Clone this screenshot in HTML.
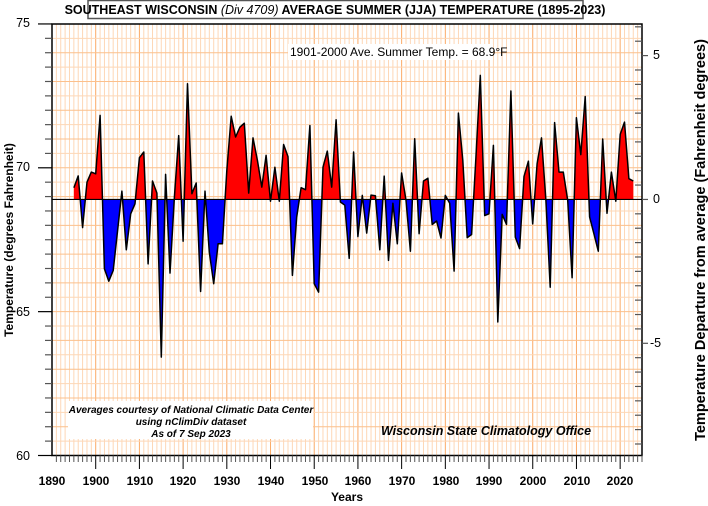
<!DOCTYPE html>
<html><head><meta charset="utf-8"><style>
html,body{margin:0;padding:0;background:#fff;}
svg{display:block;font-family:"Liberation Sans",Arial,sans-serif;}
</style></head><body>
<svg id="c" width="708" height="506" viewBox="0 0 708 506" xmlns="http://www.w3.org/2000/svg">
<defs>
<clipPath id="up"><rect x="52" y="0" width="590" height="199"/></clipPath>
<clipPath id="dn"><rect x="52" y="199" width="590" height="300"/></clipPath>
</defs>
<g id="grid"></g>
<g id="data"></g>
<g id="axes"></g>
<rect x="88" y="0.5" width="495" height="18" fill="#fff" stroke="#555" stroke-width="1.5"/>
<text x="335" y="14" text-anchor="middle" font-size="12.5" font-weight="bold">SOUTHEAST WISCONSIN <tspan font-style="italic" font-weight="normal">(Div 4709)</tspan> AVERAGE SUMMER (JJA) TEMPERATURE  (1895-2023)</text>
<rect x="288" y="44" width="205" height="16" fill="#fff"/>
<text x="290" y="56" font-size="12">1901-2000 Ave. Summer Temp. = 68.9°F</text>
<rect x="68" y="401" width="245" height="38" fill="#fff"/>
<g font-size="10" font-weight="bold" font-style="italic" text-anchor="middle">
<text x="191" y="413">Averages courtesy of National Climatic Data Center</text>
<text x="191" y="425">using nClimDiv dataset</text>
<text x="191" y="437">As of 7 Sep 2023</text>
</g>
<text x="486" y="435" text-anchor="middle" font-size="12.5" font-weight="bold" font-style="italic">Wisconsin State Climatology Office</text>
<g font-size="12.5" text-anchor="end">
<text x="30" y="27">75</text><text x="30" y="171">70</text><text x="30" y="316">65</text><text x="30" y="460">60</text>
</g>
<g font-size="12.5" text-anchor="start">
<text x="653" y="59">5</text><text x="653" y="203">0</text><text x="650" y="347">-5</text>
</g>
<g font-size="12" text-anchor="middle" font-weight="bold">
<text x="52" y="485">1890</text><text x="96" y="485">1900</text><text x="140" y="485">1910</text><text x="183" y="485">1920</text><text x="227" y="485">1930</text><text x="271" y="485">1940</text><text x="315" y="485">1950</text><text x="358" y="485">1960</text><text x="402" y="485">1970</text><text x="446" y="485">1980</text><text x="489" y="485">1990</text><text x="533" y="485">2000</text><text x="577" y="485">2010</text><text x="620" y="485">2020</text>
<text x="347" y="501">Years</text>
</g>
<text transform="translate(13,240) rotate(-90)" text-anchor="middle" font-size="12" font-weight="bold">Temperature  (degrees Fahrenheit)</text>
<text transform="translate(705,240) rotate(-90)" text-anchor="middle" font-size="14.5" font-weight="bold">Temperature Departure from average (Fahrenheit degrees)</text>
</svg>
<script>
var NS="http://www.w3.org/2000/svg";
function X(y){return 52+(y-1890)*4.3704;}
function Y(t){return 455.5-(t-60)*28.77;}
function el(p,tag,a){var e=document.createElementNS(NS,tag);for(var k in a)e.setAttribute(k,a[k]);p.appendChild(e);return e;}
var g=document.getElementById('grid'),ax=document.getElementById('axes'),d=document.getElementById('data');
for(var yr=1891;yr<2025;yr++){var x=X(yr);el(g,'line',{x1:x,x2:x,y1:24,y2:455.5,stroke:yr%10==0?'#fbaa66':'#fdd7b6','stroke-width':1});}
for(var t=60.5;t<75;t+=0.5){var y=Y(t);el(g,'line',{x1:52,x2:642,y1:y,y2:y,stroke:(t%1==0)?'#fcc08c':'#fdd7b6','stroke-width':1});}
var dep=[0.41,0.82,-0.98,0.6,0.95,0.89,2.92,-2.41,-2.84,-2.47,-1.08,0.29,-1.75,-0.5,-0.15,1.45,1.65,-2.24,0.64,0.22,-5.48,0.87,-2.56,0.08,2.22,-1.45,4.02,0.2,0.57,-3.2,0.29,-1.83,-2.93,-1.54,-1.54,1.0,2.89,2.17,2.51,2.65,0.22,2.14,1.36,0.43,1.53,-0.06,1.12,-0.06,1.91,1.49,-2.64,-0.61,0.41,0.34,2.57,-2.93,-3.22,1.12,1.68,0.43,2.77,-0.09,-0.2,-2.05,1.65,-1.29,0.14,-1.17,0.15,0.13,-1.75,0.81,-2.12,-0.13,-1.54,0.92,-0.03,-1.8,2.11,-1.19,0.64,0.74,-0.87,-0.75,-1.34,0.14,-0.13,-2.49,3.0,1.36,-1.33,-1.22,1.45,4.31,-0.56,-0.5,1.88,-4.26,-0.52,-0.87,3.77,-1.31,-1.71,0.8,1.33,-0.85,1.24,2.14,-0.03,-3.05,2.67,0.95,0.95,-0.03,-2.72,2.84,1.56,3.58,-0.61,-1.19,-1.8,2.1,-0.48,0.95,-0.06,2.26,2.69,0.72,0.64];
var z=Y(68.9),pts=[],line=[];
for(var i=0;i<dep.length;i++){var p=X(1895+i).toFixed(1)+','+Y(68.9+dep[i]).toFixed(1);pts.push(p);line.push(p);}
var poly=X(1895).toFixed(1)+','+z+' '+pts.join(' ')+' '+X(2023).toFixed(1)+','+z;
el(d,'polygon',{points:poly,fill:'#f00','clip-path':'url(#up)'});
el(d,'polygon',{points:poly,fill:'#00f','clip-path':'url(#dn)'});
el(d,'polyline',{points:line.join(' '),fill:'none',stroke:'#000','stroke-width':1.5,'stroke-linejoin':'round'});
el(d,'line',{x1:52,x2:642,y1:z,y2:z,stroke:'#000','stroke-width':1.2});
el(ax,'rect',{x:52,y:24,width:590,height:431.5,fill:'none',stroke:'#000','stroke-width':1.5});
for(var yr=1891;yr<=2025;yr++){var x=X(yr),big=yr%10==0;el(ax,'line',{x1:x,x2:x,y1:455.5,y2:big?469:462,stroke:big?'#000':'#555','stroke-width':1});}
for(var t=60;t<=75;t+=0.5){var y=Y(t),big=t%5==0;el(ax,'line',{x1:big?38:45,x2:52,y1:y,y2:y,stroke:big?'#000':'#555','stroke-width':1.2});}
for(var dd=-9;dd<=6;dd+=0.5){var y=Y(68.9+dd);if(y<25||y>455)continue;var big=dd%5==0;el(ax,'line',{x1:642,x2:big?648:635,y1:y,y2:y,stroke:'#555','stroke-width':1.2});}
</script>
</body></html>
